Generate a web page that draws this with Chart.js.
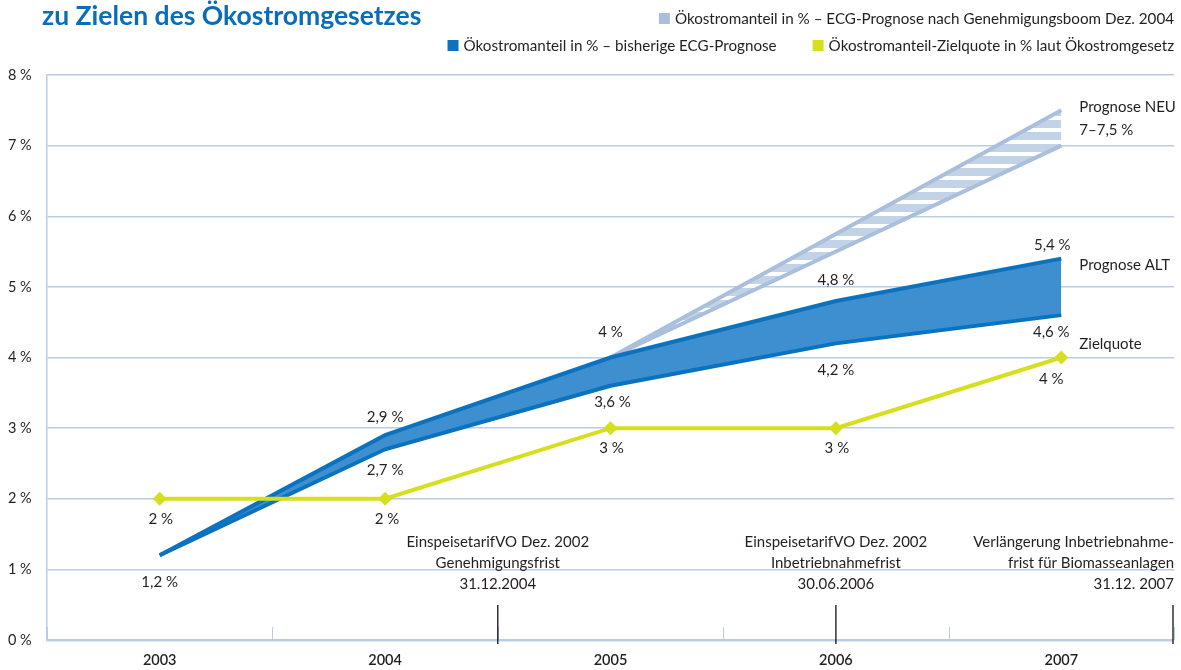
<!DOCTYPE html>
<html>
<head>
<meta charset="utf-8">
<script src="https://cdn.jsdelivr.net/npm/chart.js@4"></script>
<style>
  body { margin: 0; background: #fff; }
  canvas { display: block; }
</style>
</head>
<body>
<canvas id="ecgChart" width="1181" height="670"></canvas>
<script>
const years = [2003, 2004, 2005, 2006, 2007];
const altUpper = [1.2, 2.9, 4.0, 4.8, 5.4];   // Prognose ALT, oberer Rand
const altLower = [1.2, 2.7, 3.6, 4.2, 4.6];   // Prognose ALT, unterer Rand
const neuUpper = [null, null, 4.0, 5.75, 7.5]; // Prognose NEU, oberer Rand
const neuLower = [null, null, 4.0, 5.5, 7.0];  // Prognose NEU, unterer Rand
const zielquote = [2, 2, 3, 3, 4];
const yTicks = [0, 1, 2, 3, 4, 5, 6, 7, 8];
const deadlines = [
    { at: 2005.0, text: ['EinspeisetarifVO Dez. 2002', 'Genehmigungsfrist', '31.12.2004'] },
    { at: 2006.5, text: ['EinspeisetarifVO Dez. 2002', 'Inbetriebnahmefrist', '30.06.2006'] },
    { at: 2008.0, text: ['Verlängerung Inbetriebnahme-', 'frist für Biomasseanlagen', '31.12. 2007'] }
];
const seriesNames = {
    neu: ['Prognose NEU', '7–7,5 %'],
    alt: ['Prognose ALT'],
    ziel: ['Zielquote']
};
const legendItems = [
    ['Ökostromanteil in % – ECG-Prognose nach Genehmigungsboom Dez. 2004'],
    ['Ökostromanteil in % – bisherige ECG-Prognose', 'Ökostromanteil-Zielquote in % laut Ökostromgesetz']
];
const title = 'zu Zielen des Ökostromgesetzes';

const FONT = 'Lato, "Open Sans", sans-serif';
const TEXT = '#231f20';
const LIGHT = '#a9bfdc';
const DARK = '#0b72c0';
const DARK_FILL = '#3d8fcf';
const YELLOW = '#d5df1e';
const GRID = '#b9cde5';

function pts(values) {
    return values.map((v, i) => ({ x: years[i] + 0.5, y: v })).filter(p => p.y !== null);
}
function fmt(v) {
    return String(v).replace('.', ',') + ' %';
}

// hatch pattern for the new forecast band
const hatchCanvas = document.createElement('canvas');
hatchCanvas.width = 8;
hatchCanvas.height = 12;
const hctx = hatchCanvas.getContext('2d');
hctx.fillStyle = '#ffffff';
hctx.fillRect(0, 0, 8, 12);
hctx.fillStyle = '#c3d3e7';
hctx.fillRect(0, 0, 8, 8);
const hatch = hctx.createPattern(hatchCanvas, 'repeat');

const decorations = {
    id: 'decorations',
    afterDraw(chart) {
        const { ctx, chartArea, scales: { x, y } } = chart;
        ctx.save();

        // title
        ctx.fillStyle = '#0a6db8';
        ctx.font = 'bold 26.5px ' + FONT;
        ctx.textBaseline = 'alphabetic';
        ctx.textAlign = 'left';
        ctx.fillText(title, 42, 25);

        // legend, right aligned
        const legendColors = [[LIGHT], [DARK, YELLOW]];
        ctx.font = '15.2px ' + FONT;
        const rowY = [19, 46];
        legendItems.forEach((row, r) => {
            let right = chartArea.right;
            for (let i = row.length - 1; i >= 0; i--) {
                const w = ctx.measureText(row[i]).width;
                const tx = right - w;
                ctx.fillStyle = TEXT;
                ctx.textBaseline = 'middle';
                ctx.fillText(row[i], tx, rowY[r]);
                ctx.fillStyle = legendColors[r][i];
                ctx.fillRect(tx - 16, rowY[r] - 6, 11, 11);
                right = tx - 16 - 36;
            }
        });

        // ticks on the time axis
        const bottom = chartArea.bottom;
        ctx.lineWidth = 1;
        ctx.strokeStyle = GRID;
        for (let yr = years[0]; yr <= years[years.length - 1] + 1; yr++) {
            const px = Math.round(x.getPixelForValue(yr)) + 0.5;
            ctx.beginPath();
            ctx.moveTo(px, bottom - 13);
            ctx.lineTo(px, bottom);
            ctx.stroke();
        }
        ctx.strokeStyle = '#111';
        ctx.lineWidth = 1.3;
        ctx.font = '15px ' + FONT;
        ctx.fillStyle = TEXT;
        ctx.textBaseline = 'middle';
        deadlines.forEach(d => {
            let px = x.getPixelForValue(d.at);
            if (px > chartArea.right - 1) px = chartArea.right - 1;
            ctx.beginPath();
            ctx.moveTo(px, bottom - 35);
            ctx.lineTo(px, bottom + 4);
            ctx.stroke();
            d.text.forEach((line, k) => {
                const w = ctx.measureText(line).width;
                let tx = px - w / 2;
                if (tx + w > chartArea.right) tx = chartArea.right - w;
                ctx.textAlign = 'left';
                ctx.fillText(line, tx, 542 + k * 21);
            });
        });

        // value labels
        ctx.textAlign = 'center';
        const label = (v, i, dx, dy) => {
            const px = x.getPixelForValue(years[i] + 0.5);
            const py = y.getPixelForValue(v);
            ctx.fillText(fmt(v), px + dx, py + dy);
        };
        const upDy = [0, -18, -25, -21, -13];
        const upDx = [0, 0, 0, 0, -9];
        altUpper.forEach((v, i) => { if (i > 0) label(v, i, upDx[i], upDy[i]); });
        const loDy = [27, 21, 16, 27, 17];
        const loDx = [0, 0, 2, 0, -10];
        altLower.forEach((v, i) => label(v, i, loDx[i], loDy[i]));
        const zDx = [1, 2, 1, 1, -10];
        const zDy = [20, 20, 20, 20, 22];
        zielquote.forEach((v, i) => label(v, i, zDx[i], zDy[i]));

        // series names at the right
        ctx.textAlign = 'left';
        const nx = x.getPixelForValue(years[4] + 0.5) + 18;
        seriesNames.neu.forEach((t, k) => ctx.fillText(t, nx, 107 + k * 23));
        ctx.fillText(seriesNames.alt[0], nx, 265);
        ctx.fillText(seriesNames.ziel[0], nx, 344);

        ctx.restore();
    }
};

new Chart(document.getElementById('ecgChart'), {
    type: 'line',
    data: {
        datasets: [
            {
                label: 'Zielquote',
                data: pts(zielquote),
                borderColor: YELLOW,
                backgroundColor: YELLOW,
                borderWidth: 4,
                pointStyle: 'rectRot',
                pointRadius: 7,
                pointBorderWidth: 0,
                fill: false
            },
            {
                label: 'ALT oben',
                data: pts(altUpper),
                borderColor: DARK,
                backgroundColor: DARK_FILL,
                borderWidth: 4,
                pointRadius: 0,
                fill: '+1'
            },
            {
                label: 'ALT unten',
                data: pts(altLower),
                borderColor: DARK,
                borderWidth: 4,
                pointRadius: 0,
                fill: false
            },
            {
                label: 'NEU oben',
                data: pts(neuUpper),
                borderColor: LIGHT,
                backgroundColor: hatch,
                borderWidth: 4,
                pointRadius: 0,
                fill: '+1'
            },
            {
                label: 'NEU unten',
                data: pts(neuLower),
                borderColor: LIGHT,
                borderWidth: 4,
                pointRadius: 0,
                fill: false
            }
        ]
    },
    options: {
        responsive: false,
        animation: false,
        layout: { padding: { left: 8, right: 6, top: 75, bottom: 0 } },
        plugins: {
            legend: { display: false },
            tooltip: { enabled: false },
            filler: { drawTime: 'beforeDatasetsDraw' }
        },
        scales: {
            x: {
                type: 'linear',
                min: years[0],
                max: years[years.length - 1] + 1,
                afterBuildTicks: s => { s.ticks = years.map(v => ({ value: v + 0.5 })); },
                afterFit: s => { s.height = 30; },
                grid: { display: false },
                border: { display: false },
                ticks: {
                    autoSkip: false,
                    maxRotation: 0,
                    padding: 4,
                    color: TEXT,
                    font: { family: FONT, size: 14.5, weight: '600' },
                    callback: v => String(Math.floor(v))
                }
            },
            y: {
                min: 0,
                max: 8,
                afterBuildTicks: s => { s.ticks = yTicks.map(v => ({ value: v })); },
                afterFit: s => { s.width = 39; },
                grid: {
                    color: GRID,
                    lineWidth: c => (c.tick && c.tick.value === 0 ? 2.5 : 1.5),
                    drawTicks: false
                },
                border: { display: true, color: GRID, width: 1.5 },
                ticks: {
                    crossAlign: 'far',
                    padding: 8,
                    color: TEXT,
                    font: { family: FONT, size: 14.5 },
                    callback: v => v + ' %'
                }
            }
        }
    },
    plugins: [decorations]
});
</script>
</body>
</html>
